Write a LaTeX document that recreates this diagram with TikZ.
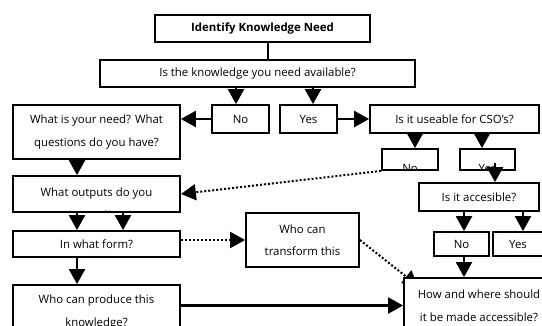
\documentclass[tikz,border=0pt]{standalone}
\usepackage{fontspec}
\setmainfont{Open Sans}
\usetikzlibrary{arrows.meta}
\tikzset{
    % Boxes
    flowBox/.style={draw=black, line width=1.8pt, fill=white, inner sep=0pt,
        align=center, font=\fontsize{11.4}{22.5}\selectfont},
    boxText/.style={inner sep=0pt, align=center, font=\fontsize{11.4}{22.5}\selectfont},
    % Connectors
    arrowFlow/.style={-{Triangle[width=16pt,length=15pt]}, line width=2.4pt},
    arrowDot/.style={-{Triangle[width=16pt,length=15pt]}, line width=2pt, dash pattern=on 2pt off 2pt},
    plainLink/.style={line width=2.4pt}
}

\begin{document}
\begin{tikzpicture}[x=1pt, y=-1pt]
    \useasboundingbox (0,0) rectangle (542,325);
    \clip (0,0) rectangle (542,325);
    \fill[white] (0,0) rectangle (542,325);

    % Columns of the vertical connectors
    \coordinate (colLeft) at (77,0);
    \coordinate (colLeftB) at (123,0);
    \coordinate (colTop) at (268,0);
    \coordinate (colNo) at (236,0);
    \coordinate (colYes) at (313,0);
    \coordinate (colUseNo) at (415,0);
    \coordinate (colUseYes) at (482,0);
    \coordinate (colAccNo) at (464,0);
    \coordinate (colAccYes) at (523,0);
    \coordinate (yesBOut) at (495,163);
    \coordinate (howTip) at (418,286);

    % Question chain
    \node[flowBox, minimum width=215pt, minimum height=27pt, font=\bfseries\fontsize{11.4}{22.5}\selectfont] (need) at (262.5,28.5) {Identify Knowledge Need};
    \node[flowBox, minimum width=315pt, minimum height=27pt] (avail) at (257.5,73.5) {Is the knowledge you need available?};
    \node[flowBox, minimum width=57pt, minimum height=28pt] (noA) at (240.5,119) {No};
    \node[flowBox, minimum width=57pt, minimum height=28pt] (yesA) at (308.5,119) {Yes};
    \node[flowBox, minimum width=167pt, minimum height=54pt] (ask) at (96.5,132) {What is your need? What\\questions do you have?};
    \node[flowBox, minimum width=169pt, minimum height=28pt] (useable) at (454.5,119) {Is it useable for CSO’s?};

    % Boxes whose text runs out of them
    \node[flowBox, minimum width=56pt, minimum height=21pt] (noB) at (410,159.5) {};
    \node[flowBox, minimum width=55pt, minimum height=21pt] (yesB) at (487.5,159.5) {};
    \node[flowBox, minimum width=167pt, minimum height=36pt] (outputs) at (96.5,194) {};
    \begin{scope}
        \clip (noB.south west) rectangle (noB.north east);
        \node[boxText, anchor=base] (noBText) at (410,172) {No};
    \end{scope}
    \begin{scope}
        \clip (yesB.south west) rectangle (yesB.north east);
        \node[boxText, anchor=base] (yesBText) at (487.5,172) {Yes};
    \end{scope}
    \begin{scope}
        \clip (outputs.south west) rectangle (outputs.north east);
        \node[boxText, anchor=north] (outputsText) at (96.5,188) {What outputs do you\\need?};
    \end{scope}

    \node[flowBox, minimum width=120pt, minimum height=28pt] (access) at (479,197) {Is it accesible?};
    \node[flowBox, minimum width=55pt, minimum height=24pt] (noC) at (461.5,244) {No};
    \node[flowBox, minimum width=50pt, minimum height=24pt] (yesC) at (518,244) {Yes};
    \node[flowBox, minimum width=167pt, minimum height=26pt] (form) at (96.5,244) {In what form?};
    \node[flowBox, minimum width=113pt, minimum height=54pt] (transform) at (302.5,240) {Who can\\transform this};
    \node[flowBox, minimum width=167pt, minimum height=54pt] (produce) at (96.5,312) {Who can produce this\\knowledge?};

    % Connectors
    \draw[plainLink] (need.south -| colTop) -- (avail.north -| colTop);
    \draw[arrowFlow] (avail.south -| colNo) -- (noA.north -| colNo);
    \draw[arrowFlow] (avail.south -| colYes) -- (yesA.north -| colYes);
    \draw[arrowFlow] (noA.west) -- (noA.west -| ask.east);
    \draw[arrowFlow] (yesA.east) -- (useable.west);
    \draw[arrowFlow] (useable.south -| colUseNo) -- (noB.north -| colUseNo);
    \draw[arrowFlow] (useable.south -| colUseYes) -- (yesB.north -| colUseYes);
    \draw[arrowFlow] (yesBOut) -- (access.north -| yesBOut);
    \draw[arrowFlow] (access.south -| colAccNo) -- (noC.north -| colAccNo);
    \draw[arrowFlow] (access.south -| colAccYes) -- (yesC.north -| colAccYes);
    \draw[arrowFlow] (ask.south -| colLeft) -- (outputs.north -| colLeft);
    \draw[arrowFlow] (outputs.south -| colLeft) -- (form.north -| colLeft);
    \draw[arrowFlow] (outputs.south -| colLeftB) -- (form.north -| colLeftB);
    \draw[arrowFlow] (form.south -| colLeft) -- (produce.north -| colLeft);
    \draw[arrowDot] (noB.south west) -- (outputs.east);
    \draw[arrowDot] (transform.west -| form.east) -- (transform.west);
    \draw[arrowDot] (transform.east) -- (howTip);

    % Last box, on top of the dotted tip
    \node[flowBox, minimum width=150pt, minimum height=55pt] (how) at (479,305.5) {How and where should\\it be made accessible?};
    \draw[arrowFlow] (noC.south -| colAccNo) -- (how.north -| colAccNo);
    \draw[arrowFlow] (how.west -| produce.east) -- (how.west);
\end{tikzpicture}
\end{document}
